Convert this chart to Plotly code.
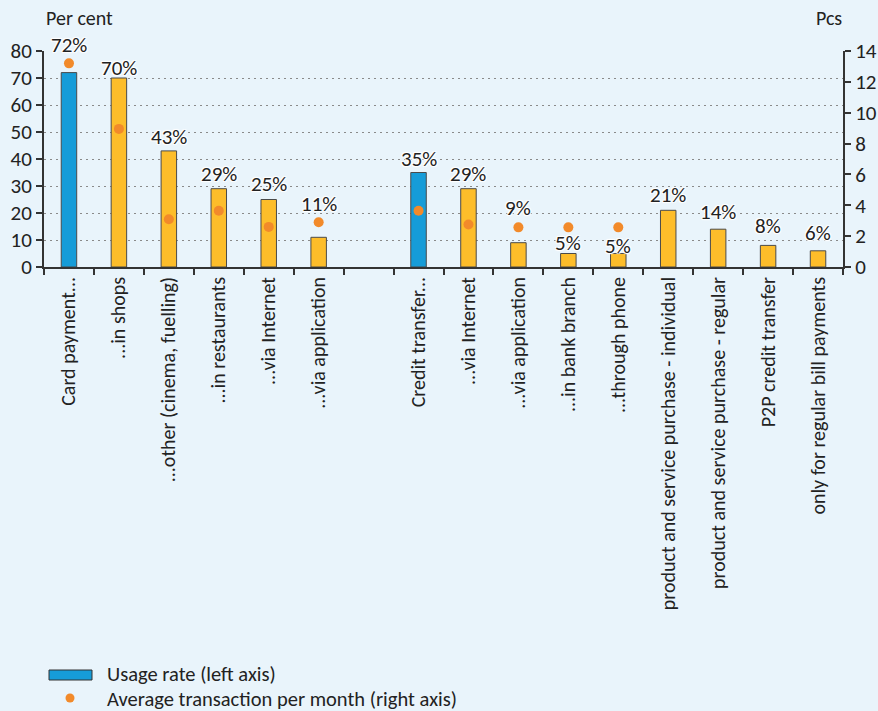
import plotly.graph_objects as go

# --- data -----------------------------------------------------------------
categories = [
    "Card payment...", "...in shops", "...other (cinema, fuelling)",
    "...in restaurants", "...via Internet", "...via application", " ",
    "Credit transfer...", "...via Internet ", "...via application ",
    "...in bank branch", "...through phone",
    "product and service purchase - individual",
    "product and service purchase - regular",
    "P2P credit transfer", "only for regular bill payments",
]
usage_rate = [72, 70, 43, 29, 25, 11, None, 35, 29, 9, 5, 5, 21, 14, 8, 6]
avg_transactions = [13.2, 8.95, 3.1, 3.65, 2.6, 2.9, None, 3.65, 2.75,
                    2.57, 2.57, 2.57, None, None, None, None]
headline_categories = ["Card payment...", "Credit transfer..."]

# --- styling ----------------------------------------------------------------
W, H = 878, 711
ML, MR, MT, MB = 44, 35, 51, 444
FONT = "Carlito, Lato, sans-serif"
TXT = "#222222"
BG = "#E9F4FB"
BLUE = "#169CD8"
YELLOW = "#FDBD2A"
ORANGE = "#F28A2A"
AXIS = "#333333"
HALO = "1px 1px 1px #fff, -1px -1px 1px #fff, 1px -1px 1px #fff, -1px 1px 1px #fff, 0 0 2px #fff"

# vertical offset (px) of each value label above its bar top
label_shift = [28, 10, 14, 15, 16, 33, 0, 14, 15, 35, 11, 8, 15, 17, 19, 18]

bar_colors = [BLUE if c in headline_categories else YELLOW for c in categories]

pw = W - ML - MR
ph = H - MT - MB


def px_x(x):
    return (x - ML) / pw


def px_y(y):
    return (H - MB - y) / ph


fig = go.Figure()
fig.add_trace(go.Bar(
    x=categories, y=usage_rate,
    marker=dict(color=bar_colors, line=dict(color="#4a4a4a", width=1)),
    width=0.31, showlegend=False, yaxis="y",
))
fig.add_trace(go.Scatter(
    x=categories, y=avg_transactions, mode="markers",
    marker=dict(color=ORANGE, size=10), showlegend=False, yaxis="y2",
))

annotations = []
for c, v, s in zip(categories, usage_rate, label_shift):
    if v is None:
        continue
    annotations.append(dict(
        x=c, y=v, xref="x", yref="y", text=f"{v}%", showarrow=False,
        yshift=s, yanchor="middle",
        font=dict(family=FONT, size=21, color=TXT, shadow=HALO),
    ))

# axis titles
annotations.append(dict(x=px_x(44), y=px_y(18), xref="paper", yref="paper",
                        text="Per cent", showarrow=False, xanchor="left",
                        yanchor="middle", font=dict(family=FONT, size=20, color=TXT)))
annotations.append(dict(x=px_x(844), y=px_y(18), xref="paper", yref="paper",
                        text="Pcs", showarrow=False, xanchor="right",
                        yanchor="middle", font=dict(family=FONT, size=20, color=TXT)))

# legend
legend_items = ["Usage rate (left axis)", "Average transaction per month (right axis)"]
for text, ypix in zip(legend_items, [674, 699]):
    annotations.append(dict(x=px_x(105), y=px_y(ypix), xref="paper", yref="paper",
                            text=text, showarrow=False, xanchor="left",
                            yanchor="middle", font=dict(family=FONT, size=20.5, color=TXT)))

shapes = [
    dict(type="rect", xref="paper", yref="paper",
         x0=px_x(49), x1=px_x(92), y0=px_y(670), y1=px_y(680),
         fillcolor=BLUE, line=dict(color="#333333", width=1)),
    dict(type="circle", xref="paper", yref="paper",
         x0=px_x(65.5), x1=px_x(74.5), y0=px_y(693.5), y1=px_y(702.5),
         fillcolor=ORANGE, line=dict(width=0)),
]

fig.update_layout(
    width=W, height=H,
    margin=dict(l=ML, r=MR, t=MT, b=MB, pad=0, autoexpand=False),
    paper_bgcolor=BG, plot_bgcolor=BG,
    font=dict(family=FONT, size=20, color=TXT),
    annotations=annotations, shapes=shapes,
    xaxis=dict(
        type="category", categoryorder="array", categoryarray=categories,
        tickmode="array", tickvals=categories,
        ticktext=[c.strip() for c in categories],
        tickson="boundaries", ticks="outside", ticklen=6, tickwidth=2,
        tickcolor=AXIS, showline=True, linecolor=AXIS, linewidth=2,
        tickangle=-90, tickfont=dict(family=FONT, size=20, color=TXT),
        showgrid=False, range=[-0.5, 15.5], automargin=False,
    ),
    yaxis=dict(
        range=[0, 80], dtick=10, tick0=0, ticks="outside", ticklen=6,
        tickwidth=2, tickcolor=AXIS, showline=True, linecolor=AXIS,
        linewidth=2, showgrid=True, gridcolor="#8a8a8a", gridwidth=1,
        griddash="2px,4px", zeroline=False, automargin=False,
        tickfont=dict(family=FONT, size=21, color=TXT),
    ),
    yaxis2=dict(
        range=[0, 14], dtick=2, tick0=0, overlaying="y", side="right",
        ticks="outside", ticklen=6, tickwidth=2, tickcolor=AXIS,
        showline=True, linecolor=AXIS, linewidth=2, showgrid=False,
        zeroline=False, automargin=False,
        tickfont=dict(family=FONT, size=21, color=TXT),
    ),
)

fig.write_html("out.html")
